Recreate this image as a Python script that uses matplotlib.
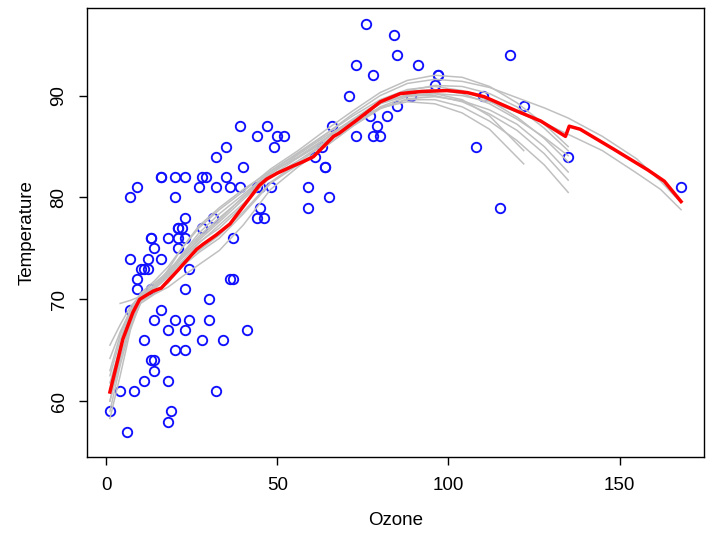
import matplotlib
matplotlib.use("Agg")
import matplotlib.pyplot as plt

# airquality: rows with non-missing Ozone
ozone = [41, 36, 12, 18, 28, 23, 19, 8, 7, 16, 11, 14, 18, 14, 34, 6, 30, 11, 1, 11,
         4, 32, 23, 45, 115, 37, 29, 71, 39, 23, 21, 37, 20, 12, 13, 135, 49, 32, 64, 40,
         77, 97, 97, 85, 10, 27, 7, 48, 35, 61, 79, 63, 16, 80, 108, 20, 52, 82, 50, 64,
         59, 39, 9, 16, 78, 35, 66, 122, 89, 110, 44, 28, 65, 22, 59, 23, 31, 44, 21, 9,
         45, 168, 73, 76, 118, 84, 85, 96, 78, 73, 91, 47, 32, 20, 23, 21, 24, 44, 21, 28,
         9, 13, 46, 18, 13, 24, 16, 13, 23, 36, 7, 14, 30, 14, 18, 20]
temp = [67, 72, 74, 62, 66, 65, 59, 61, 74, 69, 66, 68, 58, 64, 66, 57, 68, 62, 59, 73,
        61, 61, 67, 81, 79, 76, 82, 90, 87, 82, 77, 72, 65, 73, 76, 84, 85, 81, 83, 83,
        88, 92, 92, 89, 73, 81, 80, 81, 82, 84, 87, 85, 74, 86, 85, 82, 86, 88, 86, 83,
        81, 81, 81, 82, 86, 85, 87, 89, 90, 90, 86, 82, 80, 77, 79, 76, 78, 78, 77, 72,
        79, 81, 86, 97, 94, 96, 94, 91, 92, 93, 93, 87, 84, 80, 78, 75, 73, 81, 76, 77,
        71, 71, 78, 67, 76, 68, 82, 64, 71, 81, 69, 63, 70, 75, 76, 68]

# smooth fitted to all data
red_x = [1, 4.8, 7.7, 9.7, 13.6, 16.0, 21.0, 26.3, 28.2, 32, 36.1, 37.9, 42.9, 44.7,
         46.8, 50, 54.6, 57.4, 60.5, 66.4, 68, 73.2, 80.1, 85.9, 91.8, 99.6, 105.5,
         110.4, 119.2, 127.0, 134.2, 135.3, 138.5, 148.5, 158.3, 163.1, 168]
red_y = [60.9, 66.1, 68.7, 70.0, 70.8, 71.1, 72.9, 74.9, 75.4, 76.3, 77.4, 78.2, 80.4, 81.2,
         81.8, 82.4, 83.1, 83.5, 84.0, 86.0, 86.3, 87.6, 89.4, 90.2, 90.4, 90.5, 90.3,
         89.9, 88.6, 87.5, 86.0, 87.0, 86.7, 84.7, 82.7, 81.6, 79.6]

# bootstrap smooths
knots = [1, 4, 7, 10, 14, 18, 22, 27, 33, 40, 48, 56, 64, 72, 80, 88, 96, 104, 112, 120, 128, 135]
knots_long = knots + [145, 155, 162, 168]
knots_short = knots[:19] + [122]
knots_late = knots[1:]

g1 = [65.5, 67.5, 69.3, 70.4, 71.3, 72.5, 74.3, 76.2, 78.0, 80.0, 82.4, 84.0, 85.8, 87.7,
      89.4, 90.4, 90.6, 90.2, 89.2, 87.7, 85.9, 84.1]
g2 = [58.3, 62.5, 67.0, 69.8, 71.2, 72.4, 73.6, 74.8, 76.3, 78.6, 81.5, 83.4, 85.3, 87.2,
      88.8, 89.6, 89.6, 88.9, 87.5, 85.6, 83.2, 80.5]
g3 = [60.0, 64.0, 67.8, 70.0, 71.4, 72.8, 74.2, 75.8, 77.6, 79.8, 82.3, 84.2, 86.0, 87.6,
      88.8, 89.4, 89.2, 88.3, 86.7, 83.3]
g4 = [61.8, 65.3, 68.4, 70.2, 71.0, 72.2, 73.7, 75.5, 77.3, 79.4, 82.0, 83.6, 85.4, 87.5,
      89.2, 90.0, 90.0, 89.4, 88.2, 86.6, 84.3, 81.7]
g5 = [63.0, 66.5, 69.0, 70.6, 71.8, 73.2, 75.0, 77.0, 78.8, 80.6, 82.8, 84.6, 86.6, 88.5,
      90.3, 91.5, 92.0, 91.8, 90.9, 89.3, 87.2, 85.0]
g6 = [62.5, 66.0, 68.8, 70.3, 71.1, 72.3, 74.0, 76.0, 77.8, 80.1, 82.6, 84.3, 86.2, 88.2,
      90.0, 91.2, 91.6, 91.4, 90.8, 89.8, 88.8, 87.8, 86.0, 83.8, 81.6, 79.5]
g7 = [60.0, 64.2, 67.6, 69.8, 70.6, 71.6, 73.2, 74.6, 76.0, 78.4, 81.4, 83.2, 85.0, 87.0,
      88.9, 89.9, 90.2, 90.0, 89.4, 88.4, 87.3, 86.2, 84.6, 82.4, 80.8, 78.8]
g8 = [69.6, 69.9, 70.3, 71.3, 72.6, 74.4, 76.5, 78.4, 80.3, 82.6, 84.4, 86.2, 88.0,
      89.6, 90.6, 90.9, 90.5, 89.5, 87.9, 85.8, 83.5]
g9 = [59.0, 63.5, 67.3, 69.6, 70.5, 71.2, 72.2, 73.4, 74.8, 77.3, 80.8, 83.0, 85.0, 87.0,
      88.7, 89.7, 89.9, 89.5, 88.6, 87.2, 85.0, 82.5]
g10 = [64.2, 66.8, 68.9, 70.0, 71.0, 72.9, 75.0, 77.2, 79.0, 80.8, 82.6, 83.9, 85.5, 87.4,
       89.2, 90.5, 91.0, 90.9, 90.2, 88.9, 86.8, 84.6]
g11 = [61.0, 65.5, 68.6, 70.4, 71.6, 72.7, 74.0, 75.6, 77.0, 79.2, 82.1, 83.9, 85.7, 87.6,
       89.3, 90.1, 90.2, 89.6, 88.0, 84.6]

gray_curves = [(knots, g1), (knots, g2), (knots_short, g3), (knots, g4), (knots, g5),
               (knots_long, g6), (knots_long, g7), (knots_late, g8), (knots, g9),
               (knots, g10), (knots_short, g11)]

plt.rcParams["font.family"] = ["Liberation Sans", "DejaVu Sans"]

fig = plt.figure(figsize=(7.25, 5.36), dpi=100)
ax = fig.add_axes([0.120, 0.147, 0.851, 0.838])

ax.plot(ozone, temp, linestyle="none", marker="o", markersize=6.8, markerfacecolor="none",
        markeredgecolor="#1010ff", markeredgewidth=1.35)
for xs, ys in gray_curves:
    ax.plot(xs, ys, color="#c0c0c0", linewidth=1.1)
ax.plot(red_x, red_y, color="#ff0000", linewidth=2.5)

ax.set_xlim(-5.7, 174.7)
ax.set_ylim(54.5, 98.6)
ax.set_xticks([0, 50, 100, 150])
ax.set_yticks([60, 70, 80, 90])
ax.tick_params(length=6, width=1, labelsize=13.5, pad=8)
for t in ax.get_yticklabels():
    t.set_rotation(90)
    t.set_va("center")
ax.set_xlabel("Ozone", fontsize=13.5, labelpad=13)
ax.set_ylabel("Temperature", fontsize=13.5, labelpad=11)
for s in ax.spines.values():
    s.set_linewidth(1.0)

fig.savefig("out.png", dpi=100)
